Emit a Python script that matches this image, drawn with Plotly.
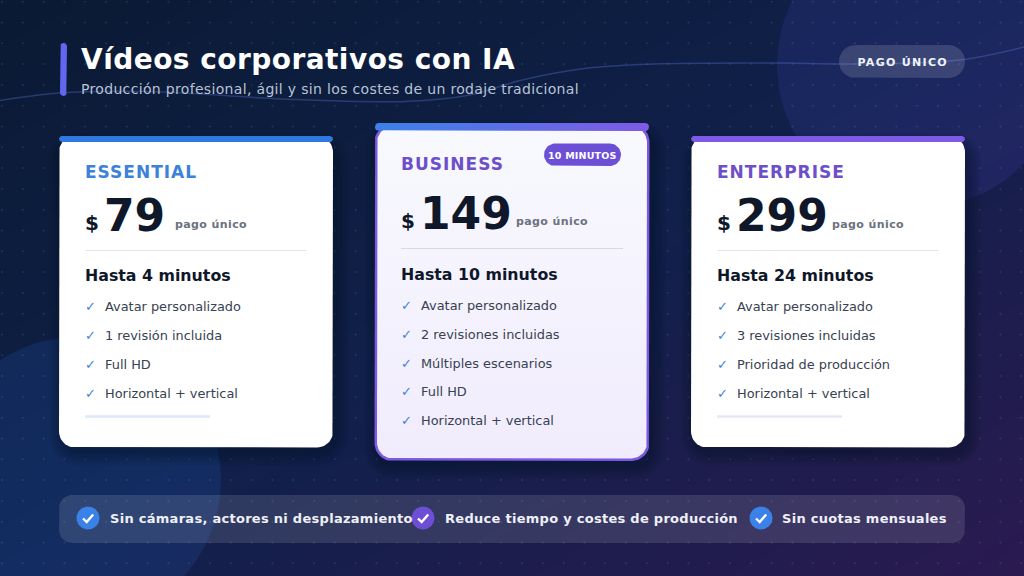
import json
import math
import numpy as np
import plotly.graph_objects as go

FONT = "DejaVu Sans"
W, H = 1024, 576

TITLE = "Vídeos corporativos con IA"
SUBTITLE = "Producción profesional, ágil y sin los costes de un rodaje tradicional"
PILL = "PAGO ÚNICO"
PLAN_NAMES = ["ESSENTIAL", "BUSINESS", "ENTERPRISE"]
PLAN_PRICES = ["79", "149", "299"]
PLAN_DURATIONS = ["Hasta 4 minutos", "Hasta 10 minutos", "Hasta 24 minutos"]
PLAN_FEATURES = [
    ["Avatar personalizado", "1 revisión incluida", "Full HD", "Horizontal + vertical"],
    ["Avatar personalizado", "2 revisiones incluidas", "Múltiples escenarios", "Full HD", "Horizontal + vertical"],
    ["Avatar personalizado", "3 revisiones incluidas", "Prioridad de producción", "Horizontal + vertical"],
]
BADGE = "10 MINUTOS"
PAY = "pago único"
BENEFITS = ["Sin cámaras, actores ni desplazamiento", "Reduce tiempo y costes de producción", "Sin cuotas mensuales"]

# layout
CARD_X = [(59, 333), (374.5, 649.5), (691, 965)]
CARD_Y = [(136, 447.5), (124, 461), (136, 447.5)]
TEXT_X = [85, 401, 717]
NAME_Y = [172, 163.5, 172]
NAME_COL = ["#3b82d8", "#6d4fc8", "#6d4fc8"]
PRICE_Y = [215, 213, 215]
PRICE_X = [104, 420, 736]
PAY_X = [175, 516, 832]
PAY_Y = [224, 221, 224]
DIV_Y = [250.5, 248.5, 250.5]
DUR_Y = [275.5, 274.5, 275.5]
FEAT_Y = [[306, 335, 364, 393], [305, 334, 363, 391.5, 420], [306, 335, 364, 393]]
CHECK_COL = ["#3b82d8", "#3b82d8", "#3b82d8"]
BEN_ICON_X = [88, 423, 761]
BEN_TEXT_X = [110, 445, 782]
BEN_COL = ["#3b82e8", "#6d4fd6", "#3b82e8"]
WAVE_X = [0, 59, 150, 281, 405, 470, 522, 588, 653, 784, 842, 960, 1024]
WAVE_Y = [100.5, 93, 91.5, 99, 101.5, 95, 80, 68, 64, 63, 64, 60, 47]


def rrect(x0, y0, x1, y1, r):
    xs, ys = [], []
    for cx, cy, a0 in [(x1 - r, y0 + r, -90), (x1 - r, y1 - r, 0), (x0 + r, y1 - r, 90), (x0 + r, y0 + r, 180)]:
        for a in np.linspace(a0, a0 + 90, 13):
            xs.append(cx + r * math.cos(math.radians(a)))
            ys.append(cy + r * math.sin(math.radians(a)))
    xs.append(xs[0])
    ys.append(ys[0])
    return xs, ys


def circle(cx, cy, r):
    t = np.linspace(0, 2 * math.pi, 121)
    return list(cx + r * np.cos(t)), list(cy + r * np.sin(t))


fig = go.Figure()

# gradient background
fig.add_trace(go.Heatmap(
    x=[0, W], y=[0, H], z=[[0, 0.5], [0.5, 1]], zsmooth="best", showscale=False, hoverinfo="skip",
    zmin=0, zmax=1,
    colorscale=[[0, "#0a1a33"], [0.5, "#10204a"], [1, "#2a1a50"]],
))


def poly(xy, color=None, gradient=None):
    kw = {"fillgradient": gradient} if gradient else {"fillcolor": color}
    fig.add_trace(go.Scatter(x=xy[0], y=xy[1], mode="lines", fill="toself", line=dict(width=0),
                             hoverinfo="skip", showlegend=False, **kw))


poly(circle(920, 65, 143), "rgba(95,85,230,0.14)")
poly(circle(78, 480, 143), "rgba(40,115,225,0.15)")

# dots
gx, gy = np.meshgrid(2 + 20.8 * np.arange(50), 1.7 + 20.8 * np.arange(28))
fig.add_trace(go.Scatter(x=gx.ravel(), y=gy.ravel(), mode="markers", hoverinfo="skip", showlegend=False,
                         marker=dict(size=2, color="rgba(255,255,255,0.10)", line=dict(width=0))))

# wave
fig.add_trace(go.Scatter(x=WAVE_X, y=WAVE_Y, mode="lines", hoverinfo="skip", showlegend=False,
                         line=dict(color="rgba(95,125,225,0.33)", width=1.5, shape="spline")))

# header accent
poly(rrect(60, 43, 67, 96, 3.5), "#6366ee")
# pill
poly(rrect(839, 45, 965, 78, 16.5), "rgba(255,255,255,0.14)")
# bottom bar
poly(rrect(59, 495, 965, 543, 13), "rgba(255,255,255,0.12)")
for x, c in zip(BEN_ICON_X, BEN_COL):
    poly(circle(x, 518, 11.5), c)
    fig.add_trace(go.Scatter(x=[x - 5, x - 1.3, x + 5.2], y=[518.5, 522, 514.5], mode="lines", hoverinfo="skip",
                             showlegend=False, line=dict(color="#ffffff", width=2.4)))

# cards
for i in range(3):
    x0, x1 = CARD_X[i]
    y0, y1 = CARD_Y[i]
    for s in range(6):
        g = 14 - 2.4 * s
        poly(rrect(x0 - g + 4, y0 + 10 - g, x1 + g - 4 + 6, y1 + 4 + g, 16 + g), "rgba(3,8,25,0.065)")
    if i == 1:
        poly(rrect(x0, y0, x1, y1, 18), "#7a5ae0")
        poly(rrect(x0 + 2.5, y0 + 2.5, x1 - 2.5, y1 - 2.5, 16),
             gradient=dict(type="vertical", colorscale=[[0, "#f1ecfd"], [1, "#f8f9fe"]]))
        poly(rrect(x0 + 0.5, 123, x1 - 0.5, 131, 3.5),
             gradient=dict(type="horizontal", colorscale=[[0, "#3b82e8"], [1, "#7f5ae6"]]))
        poly(rrect(544, 143.5, 621, 166, 11.2), "#6d4fd6")
    else:
        poly(rrect(x0, y0, x1, y1, 16), "#ffffff")
        poly(rrect(x0, 136, x1, 142, 3), "#2f7ae0" if i == 0 else "#7f5ae6")
    tx = TEXT_X[i]
    fig.add_trace(go.Scatter(x=[tx, tx + 222], y=[DIV_Y[i]] * 2, mode="lines", hoverinfo="skip", showlegend=False,
                             line=dict(color="#e3e6ec" if i != 1 else "#d8d9e6", width=1.2)))
    if i != 1:
        fig.add_trace(go.Scatter(x=[tx, tx + 125], y=[416.5] * 2, mode="lines", hoverinfo="skip", showlegend=False,
                                 line=dict(color="#dde8fa" if i == 0 else "#e8e4f8", width=2.5)))

SPACED = {}


def text(x, y, s, size, color, bold=False, anchor="left", spacing=None):
    fig.add_annotation(x=x, y=y, text=f"<b>{s}</b>" if bold else s, xref="x", yref="y", showarrow=False,
                       xanchor=anchor, yanchor="middle", borderpad=0, borderwidth=0,
                       font=dict(family=FONT, size=size, color=color))
    if spacing:
        SPACED[s] = [spacing, spacing * len(s) / 2 if anchor == "left" else 0]


text(81, 59, TITLE, 28, "#ffffff", True, spacing=0.46)
text(81, 89, SUBTITLE, 14, "#b9c3d6", spacing=0.33)
text(902, 62, PILL, 11, "#f1f3fa", True, "center", 1.3)
for i in range(3):
    tx = TEXT_X[i]
    text(tx, NAME_Y[i], PLAN_NAMES[i], 17, NAME_COL[i], True, spacing=1.0)
    text(tx, PRICE_Y[i] + 8, "$", 20, "#0f172a", True)
    text(PRICE_X[i], PRICE_Y[i], PLAN_PRICES[i], 44, "#0f172a", True)
    text(PAY_X[i], PAY_Y[i], PAY, 11, "#6b7280", True, spacing=0.4)
    text(tx, DUR_Y[i], PLAN_DURATIONS[i], 15.8, "#0f172a", True)
    for f, y in zip(PLAN_FEATURES[i], FEAT_Y[i]):
        text(tx, y, "✓", 13, CHECK_COL[i])
        text(tx + 20, y, f, 12.9, "#374151")
text(582.5, 155, BADGE, 9.5, "#ffffff", True, "center", 0.2)
for x, tx, s in zip(BEN_ICON_X, BEN_TEXT_X, BENEFITS):
    text(tx, 518, s, 13, "#eef0f8", True, spacing=0.28)

fig.update_layout(
    width=W, height=H, margin=dict(l=0, r=0, t=0, b=0), showlegend=False,
    paper_bgcolor="#0f2045", plot_bgcolor="rgba(0,0,0,0)",
    xaxis=dict(range=[0, W], visible=False, fixedrange=True),
    yaxis=dict(range=[H, 0], visible=False, fixedrange=True),
)

POST = """
document.body.style.margin='0';document.documentElement.style.overflow='hidden';
var sp=%s;
document.querySelectorAll('.annotation-text').forEach(function(t){
  var k=sp[t.textContent];
  if(k){t.style.letterSpacing=k[0]+'px';t.setAttribute('x',parseFloat(t.getAttribute('x')||0)+k[1]);}
});
""" % json.dumps(SPACED, ensure_ascii=False)
fig.write_html("out.html", post_script=POST, config={"displayModeBar": False})
